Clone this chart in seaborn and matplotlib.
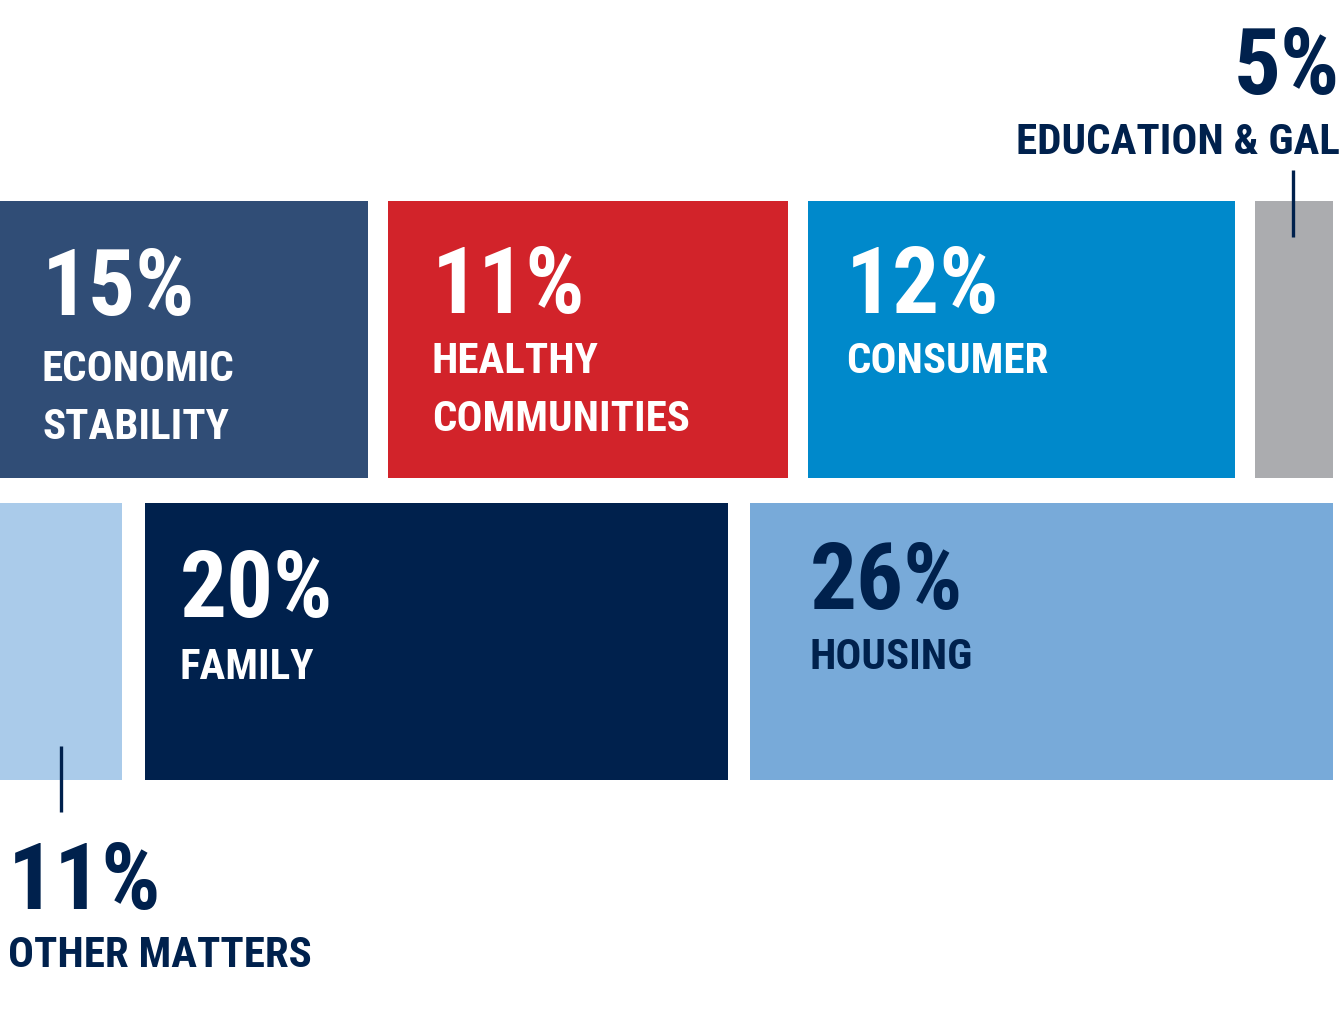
import numpy as np
import matplotlib
matplotlib.use("Agg")
import matplotlib.pyplot as plt
import seaborn as sns

# --------------------------
# Data
# --------------------------
top_names = ["ECONOMIC\nSTABILITY", "HEALTHY\nCOMMUNITIES", "CONSUMER", "EDUCATION & GAL"]
top_pct = [15, 11, 12, 5]
top_width = [368, 400, 427, 78]

bottom_names = ["OTHER MATTERS", "FAMILY", "HOUSING"]
bottom_pct = [11, 20, 26]
bottom_width = [122, 583, 583]

# --------------------------
# Style
# --------------------------
sns.set_theme(style="white")
plt.rcParams['font.family'] = ['Roboto Condensed', 'DejaVu Sans']
plt.rcParams['font.stretch'] = 'condensed'

navy = "#00214D"
top_colors = ["#304D76", "#D2232A", "#0089CB", "#ABACAF"]
bottom_colors = ["#AACBEA", "#00214D", "#78AAD9"]
top_text = ["white", "white", "white", navy]
bottom_text = [navy, "white", navy]

W, H = 1343, 1034
fig = plt.figure(figsize=(W / 100, H / 100), dpi=100)
ax = fig.add_axes([0, 0, 1, 1])
ax.set_xlim(0, W)
ax.set_ylim(H, 0)
ax.axis("off")

row_y = [339.5, 641.5]
row_h = 277
gaps = [20, 22.5]

pct_size = 67
lab_size = 31
line_gap = 58


def draw_row(yc, widths, gap, colors):
    lefts = np.concatenate([[0], np.cumsum(np.array(widths) + gap)[:-1]])
    ax.barh(yc, widths, left=lefts, height=row_h, color=colors, linewidth=0)
    return lefts


def block_label(x, base, pct, name, color, ha="left", step=62):
    ax.text(x, base, f"{pct}%", fontsize=pct_size, fontweight="bold",
            color=color, ha=ha, va="baseline", fontstretch="condensed")
    for i, line in enumerate(name.split("\n")):
        ax.text(x, base + step + i * line_gap, line, fontsize=lab_size,
                fontweight="bold", color=color, ha=ha, va="baseline",
                fontstretch="condensed")


top_left = draw_row(row_y[0], top_width, gaps[0], top_colors)
bot_left = draw_row(row_y[1], bottom_width, gaps[1], bottom_colors)

# labels inside the blocks
block_label(top_left[0] + 42, 315, top_pct[0], top_names[0], top_text[0], step=66)
block_label(top_left[1] + 44, 313, top_pct[1], top_names[1], top_text[1], step=60)
block_label(top_left[2] + 38, 313, top_pct[2], top_names[2], top_text[2], step=60)
block_label(bot_left[1] + 35, 617, bottom_pct[1], bottom_names[1], bottom_text[1])
block_label(bot_left[2] + 60, 609, bottom_pct[2], bottom_names[2], bottom_text[2], step=60)

# callouts for the small blocks
block_label(W - 3, 94, top_pct[3], top_names[3], navy, ha="right", step=60)
ax.plot([1293, 1293], [170, 237], color=navy, lw=2.4, solid_capstyle="butt")

block_label(8, 909, bottom_pct[0], bottom_names[0], navy, step=58)
ax.plot([61, 61], [746, 812], color=navy, lw=2.4, solid_capstyle="butt")

fig.savefig("out.png", dpi=100)
